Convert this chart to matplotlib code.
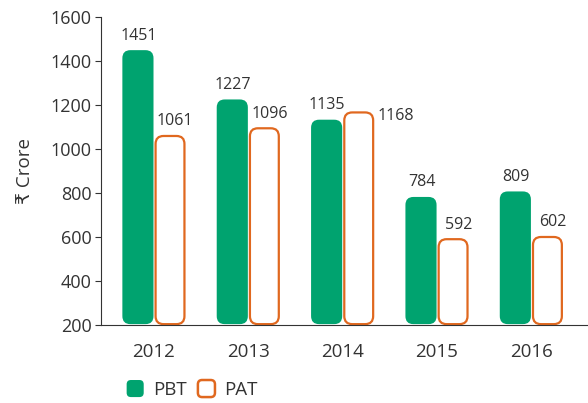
import matplotlib
matplotlib.use("Agg")
import matplotlib.pyplot as plt
from matplotlib.patches import FancyBboxPatch
from matplotlib.legend_handler import HandlerPatch

plt.rcParams['font.family'] = ['Open Sans', 'DejaVu Sans']

years = ['2012', '2013', '2014', '2015', '2016']
pbt = [1451, 1227, 1135, 784, 809]
pat = [1061, 1096, 1168, 592, 602]

green = '#00a36f'
orange = '#e0681f'
txt = '#333333'
base = 200

fig = plt.figure(figsize=(5.88, 4.03), dpi=100)
ax = fig.add_axes([0.172, 0.1935, 0.828, 0.7645])

x = list(range(len(years)))
w = 0.33
b1 = ax.bar([i - w / 2 - 0.005 for i in x], [v - base for v in pbt], w, bottom=base)
b2 = ax.bar([i + w / 2 + 0.005 for i in x], [v - base for v in pat], w, bottom=base)

ax.set_xlim(-0.56, 4.6)
ax.set_ylim(base, 1600)

# swap plain rectangles for rounded ones
px_x = 0.828 * 588 / 5.16
px_y = 0.7645 * 403 / 1400
r = 8 / px_x
aspect = px_x / px_y
for bars, fc, ec, lw in [(b1, green, 'none', 0), (b2, 'white', orange, 1.6)]:
    for rect in bars:
        rect.set_visible(False)
        inset = 0.012 if lw else 0
        p = FancyBboxPatch((rect.get_x() + inset, rect.get_y() + 4),
                           rect.get_width() - 2 * inset, rect.get_height() - 6,
                           boxstyle="round,pad=0,rounding_size=%f" % r,
                           mutation_aspect=aspect, fc=fc, ec=ec, lw=lw, zorder=2)
        ax.add_patch(p)

for i in x:
    ax.text(i - w / 2, pbt[i] + 28, str(pbt[i]), ha='center', va='bottom',
            fontsize=11.5, color=txt)
    if years[i] == '2014':
        ax.text(i + w + 0.04, pat[i] - 20, str(pat[i]), ha='left', va='center',
                fontsize=11.5, color=txt)
    else:
        ax.text(i + w / 2 + 0.06, pat[i] + 28, str(pat[i]), ha='center', va='bottom',
                fontsize=11.5, color=txt)

ax.set_xticks(x)
ax.set_xticklabels(years)
ax.set_yticks(range(200, 1601, 200))
ax.tick_params(axis='x', length=0, labelsize=13.5, labelcolor=txt, pad=13)
ax.tick_params(axis='y', length=4, labelsize=13, labelcolor=txt, color=txt, pad=3)
ax.spines['top'].set_visible(False)
ax.spines['right'].set_visible(False)
ax.spines['left'].set_color(txt)
ax.spines['bottom'].set_color(txt)
ax.set_ylabel('₹ Crore', fontsize=13.5, color=txt, labelpad=12)


class RoundHandler(HandlerPatch):
    def create_artists(self, legend, orig_handle, xdescent, ydescent,
                       width, height, fontsize, trans):
        s = height * 1.3
        p = FancyBboxPatch((-xdescent + (width - s) / 2, -ydescent - (s - height) / 2), s, s,
                           boxstyle="round,pad=0,rounding_size=%f" % (s * 0.25),
                           fc=orig_handle.get_facecolor(), ec=orig_handle.get_edgecolor(),
                           lw=orig_handle.get_linewidth(), transform=trans)
        return [p]


h1 = FancyBboxPatch((0, 0), 1, 1, fc=green, ec=green, lw=0)
h2 = FancyBboxPatch((0, 0), 1, 1, fc='white', ec=orange, lw=1.8)
leg = fig.legend([h1, h2], ['PBT', 'PAT'], loc='center left',
                 bbox_to_anchor=(0.198, 0.032), ncol=2, frameon=False,
                 fontsize=13.5, handlelength=1.2, handletextpad=0.35,
                 columnspacing=0.45, borderaxespad=0,
                 handler_map={FancyBboxPatch: RoundHandler()})
for t in leg.get_texts():
    t.set_color(txt)

fig.savefig('out.png', dpi=100)
